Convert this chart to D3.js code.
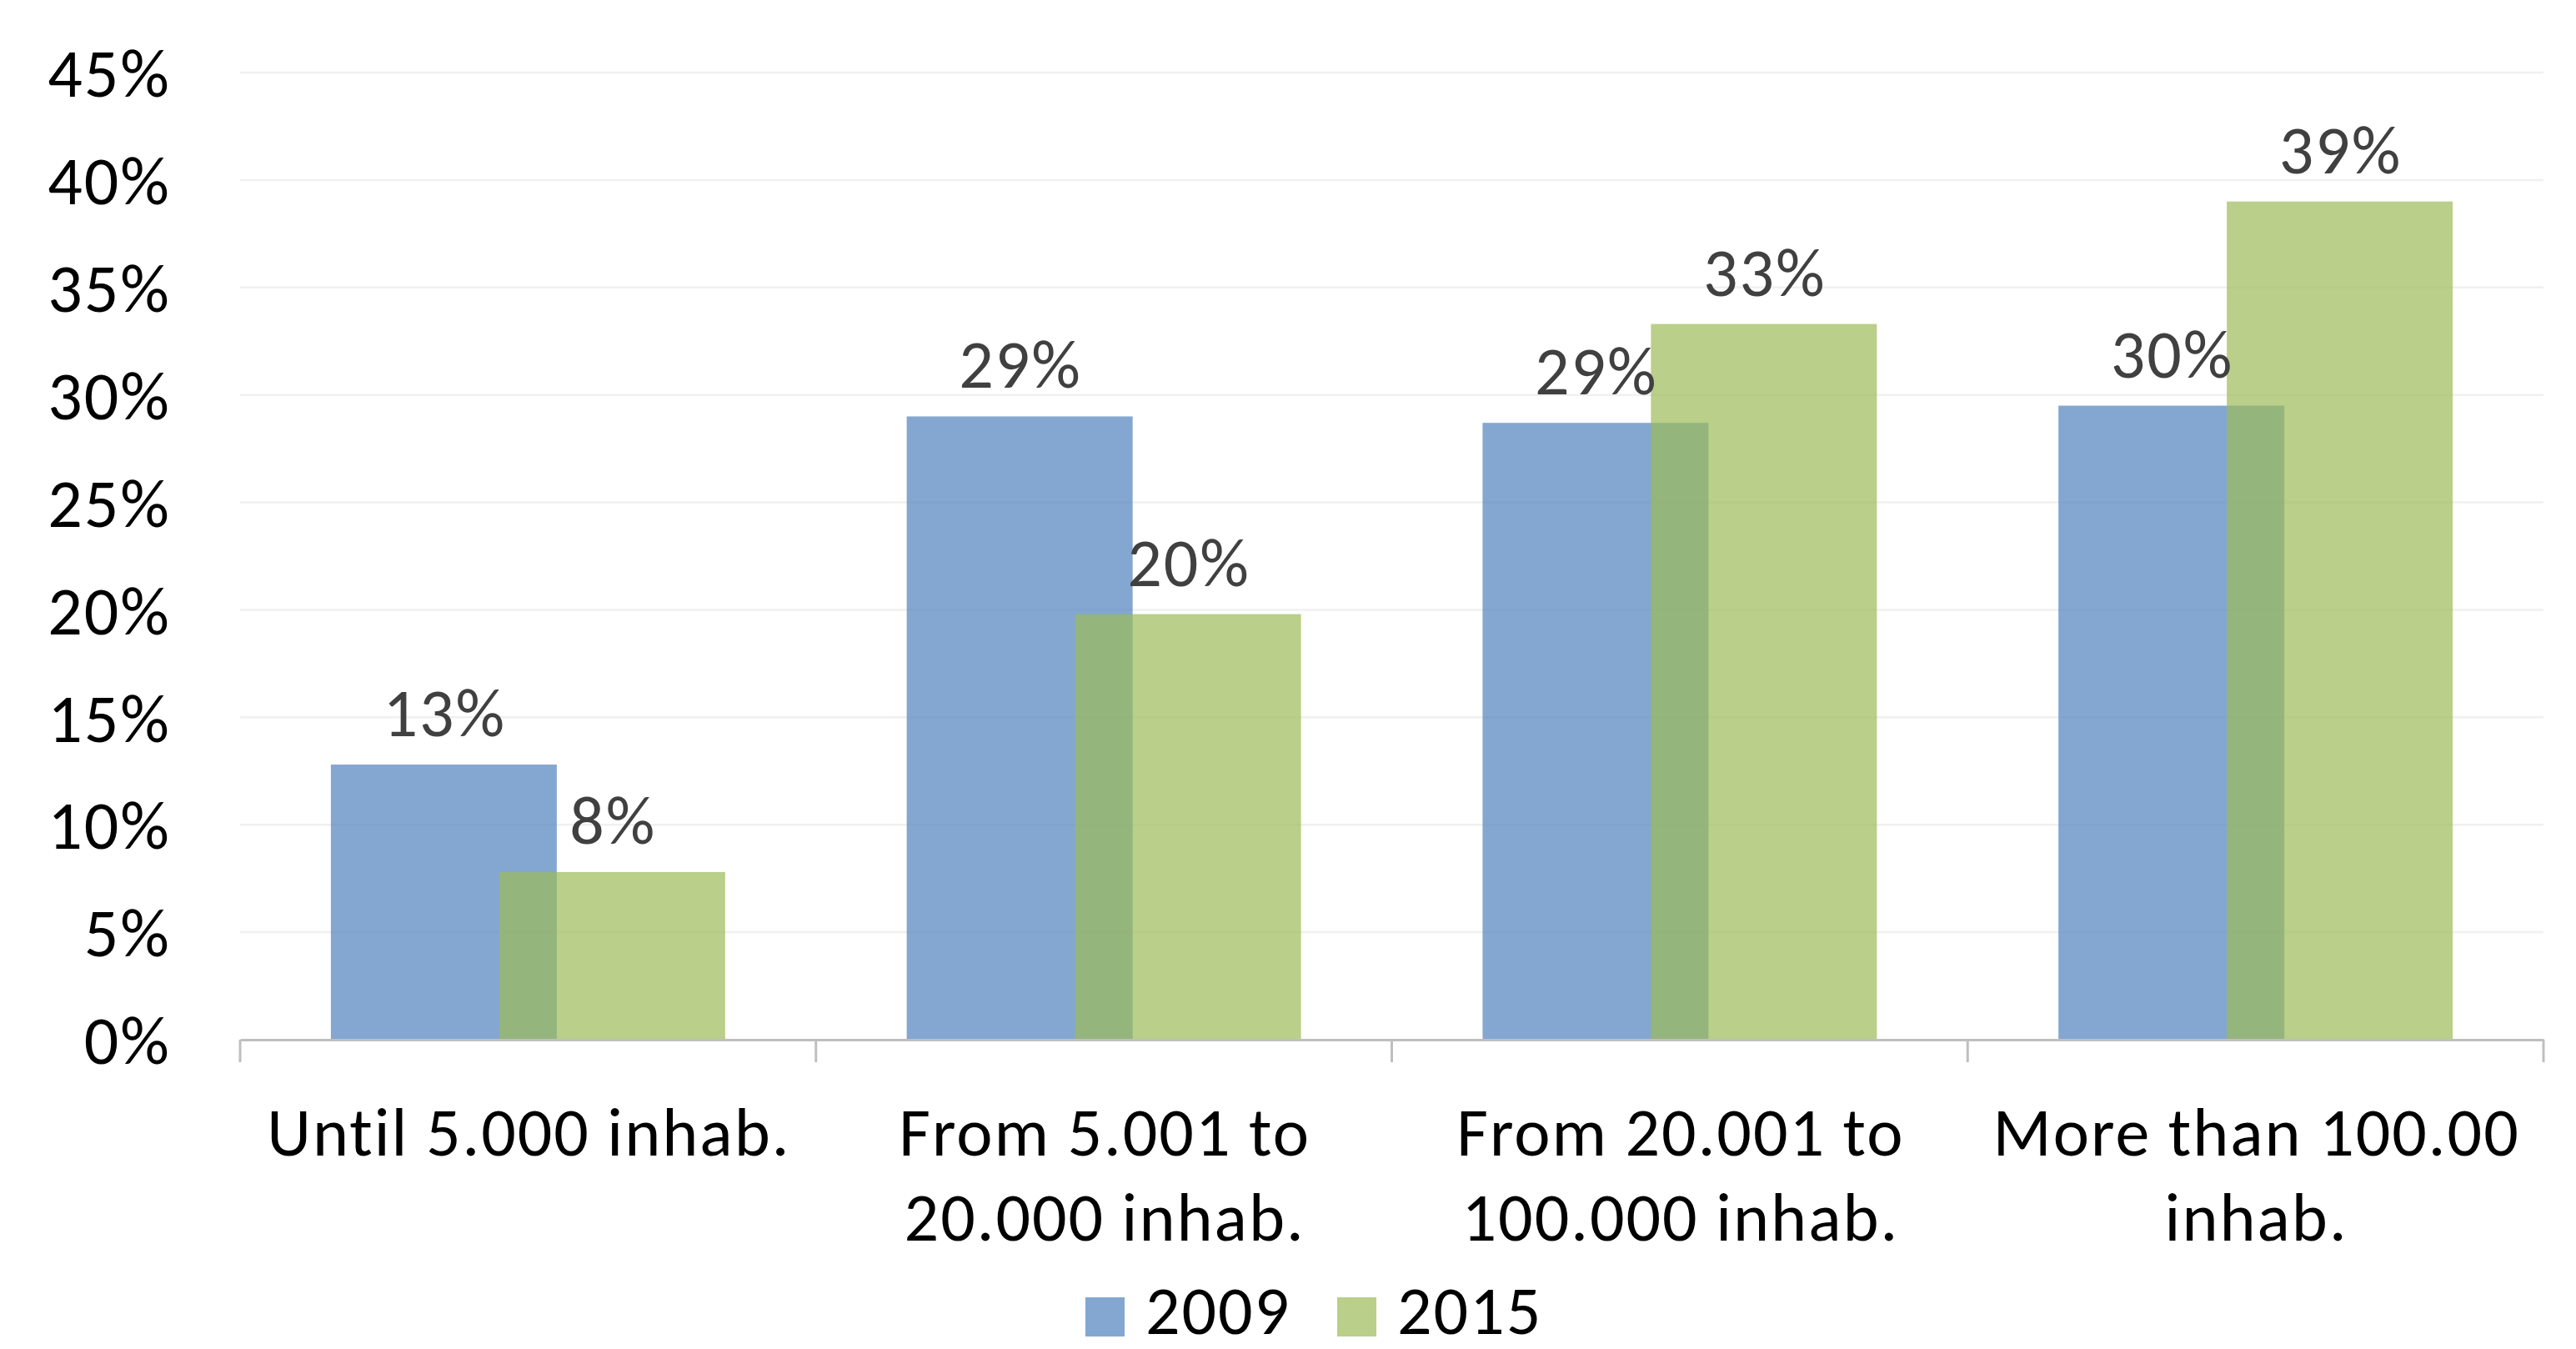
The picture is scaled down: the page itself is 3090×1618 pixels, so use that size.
<!DOCTYPE html>
<html>
<head>
<meta charset="utf-8">
<script src="https://cdn.jsdelivr.net/npm/d3@7"></script>
<style>
  html, body { margin: 0; padding: 0; background: #ffffff; }
  svg { display: block; }
  text { font-family: Carlito, Calibri, Lato, sans-serif; letter-spacing: 2px; }
</style>
</head>
<body>
<svg id="chart" width="3090" height="1618"></svg>
<script>
// ---- data ----
const categories = [
  ["Until 5.000 inhab."],
  ["From 5.001 to", "20.000 inhab."],
  ["From 20.001 to", "100.000 inhab."],
  ["More than 100.00", "inhab."]
];
const seriesNames = ["2009", "2015"];
const values2009 = [12.8, 29.0, 28.7, 29.5];
const values2015 = [7.8, 19.8, 33.3, 39.0];
const yTicks = [0, 5, 10, 15, 20, 25, 30, 35, 40, 45];
const seriesColors = ["#4F81BD", "#9BBB59"];

// ---- layout ----
const plot = { left: 288, right: 3051, top: 87, bottom: 1247 };
const fontSize = 82;

const svg = d3.select("#chart");
const catKeys = categories.map((c, i) => "c" + i);

const x = d3.scaleBand().domain(catKeys).range([plot.left, plot.right]).padding(0);
const y = d3.scaleLinear().domain([0, 45]).range([plot.bottom, plot.top]);

const bw = x.bandwidth();
const barW = bw * 0.3923;
const inner = d3.scalePoint().domain(seriesNames).range([-bw * 0.1462, bw * 0.1462]);

// gridlines
svg.append("g")
  .selectAll("line")
  .data(yTicks.filter(t => t > 0))
  .join("line")
  .attr("x1", plot.left).attr("x2", plot.right)
  .attr("y1", d => y(d)).attr("y2", d => y(d))
  .attr("stroke", "#f0f0f0").attr("stroke-width", 2.5);

// y axis labels
const yAxis = d3.axisLeft(y).tickValues(yTicks).tickFormat(d => d + "%").tickSize(0).tickPadding(0);
const gy = svg.append("g").attr("transform", `translate(205,0)`).call(yAxis);
gy.select(".domain").remove();
gy.selectAll("text")
  .attr("font-size", fontSize)
  .attr("fill", "#000000")
  .attr("dy", "0.35em")
  .style("font-family", "Carlito, Calibri, Lato, sans-serif");

// bars
const series = [values2009, values2015];
series.forEach((vals, si) => {
  svg.append("g")
    .selectAll("rect")
    .data(vals)
    .join("rect")
    .attr("x", (d, i) => x(catKeys[i]) + bw / 2 + inner(seriesNames[si]) - barW / 2)
    .attr("width", barW)
    .attr("y", d => y(d))
    .attr("height", d => y(0) - y(d))
    .attr("fill", seriesColors[si])
    .attr("fill-opacity", 0.7);
});

// x axis line + ticks
const xAxis = d3.axisBottom(x).tickSize(0).tickFormat("");
const gx = svg.append("g").attr("transform", `translate(0,${plot.bottom})`).call(xAxis);
gx.select(".domain").attr("stroke", "#bfbfbf").attr("stroke-width", 3);
gx.selectAll(".tick").remove();
const boundaries = catKeys.map(k => x(k)).concat([x(catKeys[catKeys.length - 1]) + bw]);
svg.append("g")
  .selectAll("line")
  .data(boundaries)
  .join("line")
  .attr("x1", d => d).attr("x2", d => d)
  .attr("y1", plot.bottom).attr("y2", plot.bottom + 27)
  .attr("stroke", "#bfbfbf").attr("stroke-width", 3);

// data labels
series.forEach((vals, si) => {
  svg.append("g")
    .selectAll("text")
    .data(vals)
    .join("text")
    .attr("x", (d, i) => x(catKeys[i]) + bw / 2 + inner(seriesNames[si]) + 1)
    .attr("y", d => y(d) - 34)
    .attr("text-anchor", "middle")
    .attr("font-size", fontSize)
    .attr("fill", "#404040")
    .text(d => Math.round(d) + "%");
});

// category labels
const catG = svg.append("g");
categories.forEach((lines, i) => {
  const cx = x(catKeys[i]) + bw / 2 + 1;
  const t = catG.append("text")
    .attr("x", cx)
    .attr("y", 1386)
    .attr("text-anchor", "middle")
    .attr("font-size", fontSize)
    .attr("fill", "#000000");
  lines.forEach((ln, j) => {
    t.append("tspan")
      .attr("x", cx)
      .attr("dy", j === 0 ? 0 : 102)
      .text(ln);
  });
});

// legend
const legend = svg.append("g");
const legendItems = [
  { name: seriesNames[0], color: seriesColors[0], sx: 1302, tx: 1374 },
  { name: seriesNames[1], color: seriesColors[1], sx: 1604, tx: 1676 }
];
legendItems.forEach(it => {
  legend.append("rect")
    .attr("x", it.sx).attr("y", 1556)
    .attr("width", 47).attr("height", 47)
    .attr("fill", it.color).attr("fill-opacity", 0.7);
  legend.append("text")
    .attr("x", it.tx).attr("y", 1600)
    .attr("font-size", fontSize)
    .attr("fill", "#000000")
    .text(it.name);
});
</script>
</body>
</html>
